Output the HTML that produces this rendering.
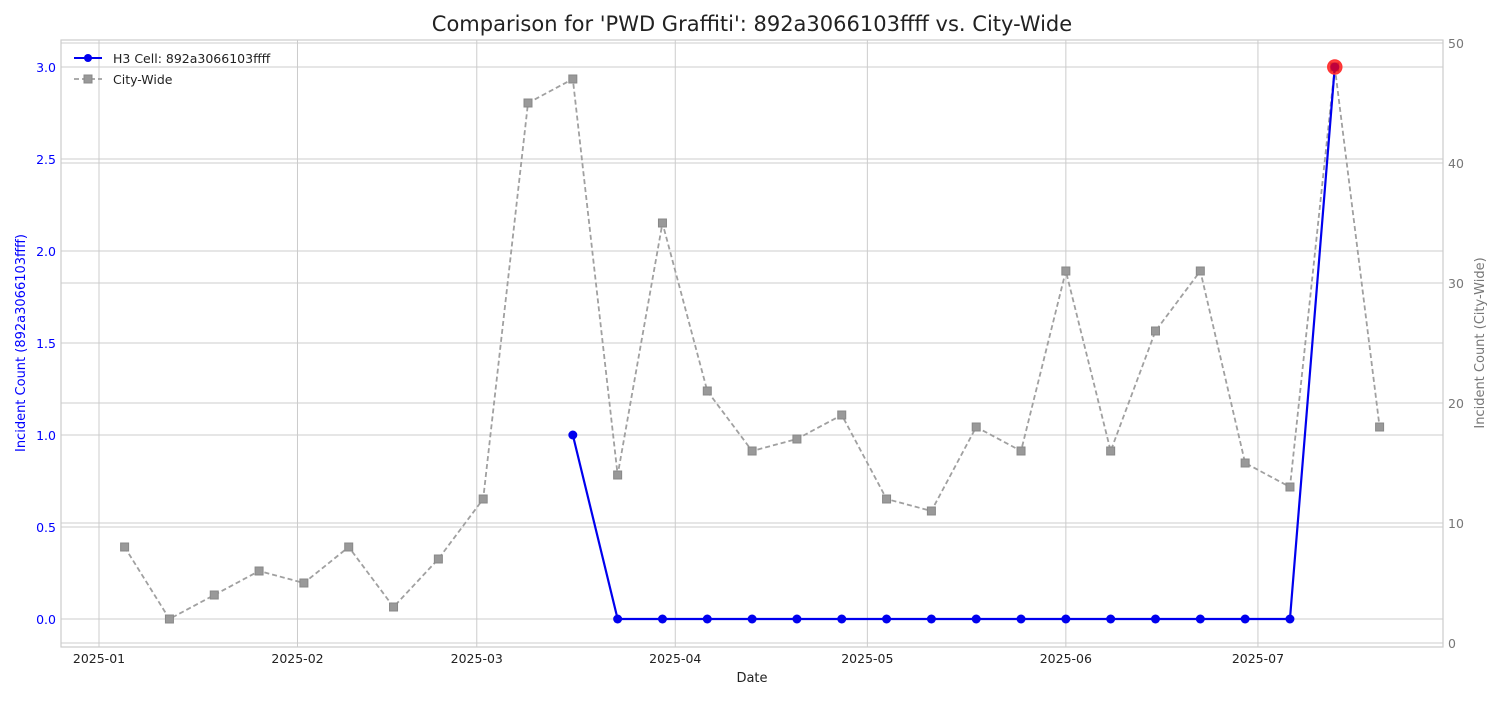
<!DOCTYPE html>
<html><head><meta charset="utf-8"><style>
body{margin:0;background:#fff;font-family:"Liberation Sans",sans-serif}
svg text{font-family:"DejaVu Sans","Liberation Sans",sans-serif}
</style></head><body>
<svg id="chart" width="1500" height="700" xmlns="http://www.w3.org/2000/svg">
<rect width="1500" height="700" fill="#fff"/>
<text x="752" y="31" text-anchor="middle" font-size="21" fill="#222">Comparison for 'PWD Graffiti': 892a3066103ffff vs. City-Wide</text>
<g id="grid"></g>
<g id="marks"></g>
<g id="axes"></g>
<rect x="61" y="40" width="1382" height="607" fill="none" stroke="#ccc" stroke-width="1.2"/>
<text x="752" y="682" text-anchor="middle" font-size="13" fill="#222">Date</text>
<text transform="translate(25,343) rotate(-90)" text-anchor="middle" font-size="13" fill="#0000ff">Incident Count (892a3066103ffff)</text>
<text transform="translate(1484,343) rotate(-90)" text-anchor="middle" font-size="13" fill="#777">Incident Count (City-Wide)</text>
<g>
<line x1="74" y1="58" x2="102" y2="58" stroke="#0000ee" stroke-width="2"/>
<circle cx="88" cy="58" r="4" fill="#0000ee"/>
<text x="113" y="63" font-size="12.5" fill="#222">H3 Cell: 892a3066103ffff</text>
<line x1="74" y1="79" x2="102" y2="79" stroke="#a0a0a0" stroke-width="1.8" stroke-dasharray="5,3"/>
<rect x="84" y="75" width="8" height="8" fill="#999" stroke="#888"/>
<text x="113" y="84" font-size="12.5" fill="#222">City-Wide</text>
</g>
</svg>
<script>
const monthLabels=["2025-01","2025-02","2025-03","2025-04","2025-05","2025-06","2025-07"];
const monthDays=[0,31,59,90,120,151,181];
const cityValues=[8,2,4,6,5,8,3,7,12,45,47,14,35,21,16,17,19,12,11,18,16,31,16,26,31,15,13,48,18];
const cellStartWeek=10;
const cellValues=[1,0,0,0,0,0,0,0,0,0,0,0,0,0,0,0,0,3];
const leftTicks=[0,0.5,1,1.5,2,2.5,3];
const rightTicks=[0,10,20,30,40,50];
const firstDay=4;
const X=d=>99+d*6.403;
const YL=v=>619-v*184;
const YR=v=>643-v*12;
const NS="http://www.w3.org/2000/svg";
function mk(parent,tag,attrs){const e=document.createElementNS(NS,tag);for(const k in attrs)e.setAttribute(k,attrs[k]);document.getElementById(parent).appendChild(e);return e;}
monthDays.forEach((d,i)=>{
 const g=mk('grid','line',{x1:X(d),x2:X(d),y1:40,y2:647,stroke:'#ccc','stroke-width':1});
 
 
 const t=mk('axes','text',{x:X(d),y:663,'text-anchor':'middle','font-size':12.5,fill:'#222'});t.textContent=monthLabels[i];
 
 
});
leftTicks.forEach(v=>{
 const g=mk('grid','line',{x1:61,x2:1443,y1:YL(v),y2:YL(v),stroke:'#ccc','stroke-width':1});
 
 
 const t=mk('axes','text',{x:56,y:YL(v)+5,'text-anchor':'end','font-size':12.5,fill:'#0000ff'});t.textContent=v.toFixed(1);
 
 
});
rightTicks.forEach(v=>{
 const g=mk('grid','line',{x1:61,x2:1443,y1:YR(v),y2:YR(v),stroke:'#ccc','stroke-width':1});
 
 
 const t=mk('axes','text',{x:1448,y:YR(v)+5,'font-size':12.5,fill:'#777'});t.textContent=v;
 
 
});
const cp=cityValues.map((v,i)=>X(firstDay+7*i)+','+YR(v)).join(' ');
const cl=mk('marks','polyline',{points:cp,fill:'none',stroke:'#a0a0a0','stroke-width':1.8,'stroke-dasharray':'5,3'});


cityValues.forEach((v,i)=>{
 const r=mk('marks','rect',{x:X(firstDay+7*i)-4,y:YR(v)-4,width:8,height:8,fill:'#999',stroke:'#888'});
 
 
});
const hp=cellValues.map((v,i)=>X(firstDay+7*(cellStartWeek+i))+','+YL(v)).join(' ');
const hl=mk('marks','polyline',{points:hp,fill:'none',stroke:'#0000ee','stroke-width':2.2});


cellValues.forEach((v,i)=>{
 const c=mk('marks','circle',{cx:X(firstDay+7*(cellStartWeek+i)),cy:YL(v),r:4.5,fill:'#0000ee'});
 
 
});
const li=cellValues.length-1;
const hi=mk('marks','circle',{cx:X(firstDay+7*(cellStartWeek+li)),cy:YL(cellValues[li]),r:7,fill:'rgba(255,0,0,0.75)',stroke:'#f33','stroke-width':1.5});


</script>
</body></html>
